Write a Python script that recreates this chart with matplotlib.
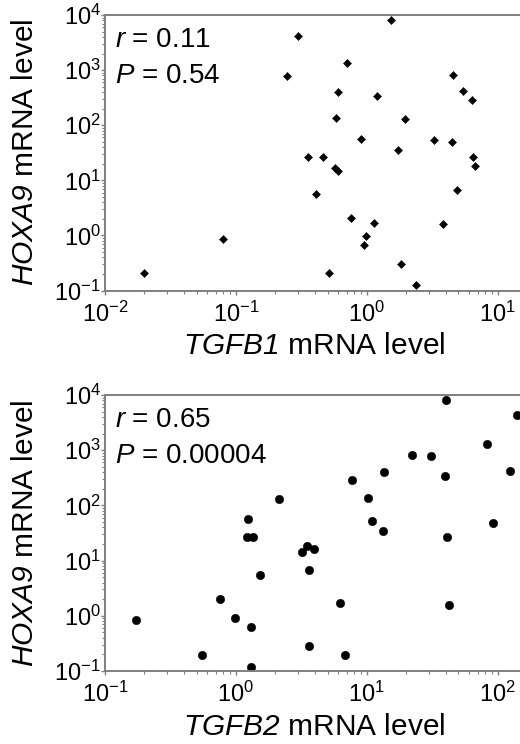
import matplotlib
matplotlib.use("Agg")
import matplotlib.pyplot as plt
import numpy as np
from matplotlib.ticker import LogLocator, LogFormatterMathtext, NullFormatter

plt.rcParams['font.family'] = ['Liberation Sans', 'DejaVu Sans']
plt.rcParams['mathtext.fontset'] = 'custom'
plt.rcParams['mathtext.rm'] = 'Liberation Sans'
plt.rcParams['mathtext.it'] = 'Liberation Sans:italic'
# \mathsf is mapped to the italic face so that digits in gene names are italic too
plt.rcParams['mathtext.sf'] = 'Liberation Sans:italic'
plt.rcParams['mathtext.default'] = 'regular'

# TGFB1 vs HOXA9 (top panel)
tgfb1 = [1.52, 0.30, 0.246, 0.70, 4.56, 5.43, 6.29, 0.60, 1.20, 0.58, 1.95,
         0.895, 1.73, 3.24, 4.48, 6.49, 6.67, 0.356, 0.46, 0.57, 0.60,
         0.41, 4.89, 0.76, 1.13, 3.78, 0.080, 0.98, 0.95, 0.020, 0.515, 1.81, 2.35]
hoxa9_top = [8100, 4200, 770, 1320, 810, 410, 283, 400, 339, 138, 128,
             57, 35, 55, 49, 26.5, 18.2, 26.5, 26.5, 16.8, 14.8,
             5.56, 6.76, 2.07, 1.70, 1.60, 0.87, 0.96, 0.67, 0.204, 0.204, 0.30, 0.125]

# TGFB2 vs HOXA9 (bottom panel)
tgfb2 = [39.8, 139, 82, 22.2, 30.6, 123, 13.5, 39.3, 7.7, 2.14, 10.2,
         1.24, 11.0, 92, 13.3, 1.22, 1.36, 40.6, 3.17, 3.46, 3.96,
         1.52, 3.63, 0.755, 6.22, 42.3, 0.172, 0.99, 1.30, 3.63, 0.547, 6.79, 1.31]
hoxa9_bot = [8100, 4330, 1320, 815, 780, 415, 400, 340, 285, 129, 139,
             57, 53, 48, 34, 26.5, 26.5, 26.5, 14.4, 18.2, 16.3,
             5.5, 6.76, 2.01, 1.68, 1.58, 0.85, 0.92, 0.64, 0.288, 0.195, 0.195, 0.12]

panels = [
    dict(x=tgfb1, y=hoxa9_top, xlim=(1e-2, 10**1.2), marker='D', ms=4.2,
         gene='TGFB1', r='0.11', p='0.54', pos=[0.2019, 0.6095, 0.806, 0.3703]),
    dict(x=tgfb2, y=hoxa9_bot, xlim=(1e-1, 10**2.2), marker='o', ms=6.0,
         gene='TGFB2', r='0.65', p='0.00004', pos=[0.2019, 0.0981, 0.806, 0.3710]),
]

fig = plt.figure(figsize=(5.2, 7.44), dpi=100)
spine_col = '#7f7f7f'

for p in panels:
    ax = fig.add_axes(p['pos'])
    ax.plot(p['x'], p['y'], linestyle='none', marker=p['marker'], ms=p['ms'],
            color='black', mec='black', mew=0.4)
    ax.set_xscale('log')
    ax.set_yscale('log')
    ax.set_xlim(*p['xlim'])
    ax.set_ylim(1e-1, 1e4)

    for s in ax.spines.values():
        s.set_color(spine_col)
        s.set_linewidth(1.4)

    ax.xaxis.set_major_locator(LogLocator(base=10, numticks=10))
    ax.yaxis.set_major_locator(LogLocator(base=10, numticks=10))
    ax.xaxis.set_minor_locator(LogLocator(base=10, subs=np.arange(2, 10), numticks=20))
    ax.yaxis.set_minor_locator(LogLocator(base=10, subs=np.arange(2, 10), numticks=20))
    ax.xaxis.set_major_formatter(LogFormatterMathtext())
    ax.yaxis.set_major_formatter(LogFormatterMathtext())
    ax.xaxis.set_minor_formatter(NullFormatter())
    ax.yaxis.set_minor_formatter(NullFormatter())
    ax.tick_params(which='major', direction='out', length=3, width=1.0,
                   color=spine_col, labelsize=17)
    ax.tick_params(which='minor', direction='out', length=2, width=0.8,
                   color=spine_col)
    ax.tick_params(axis='x', which='major', pad=5)
    ax.tick_params(axis='y', which='major', pad=0)

    ax.set_xlabel(r'$\mathsf{' + p['gene'] + '}$ mRNA level', fontsize=21.5, labelpad=4)
    ax.set_ylabel(r'$\mathsf{HOXA9}$ mRNA level', fontsize=21.5)
    ax.yaxis.set_label_coords(-0.158, 0.5)

    ax.text(0.024, 0.884, r'$\mathit{r}$ = ' + p['r'], transform=ax.transAxes,
            fontsize=20, va='baseline', ha='left')
    ax.text(0.024, 0.753, r'$\mathit{P}$ = ' + p['p'], transform=ax.transAxes,
            fontsize=20, va='baseline', ha='left')

fig.savefig('out.png', dpi=100, facecolor='white')
